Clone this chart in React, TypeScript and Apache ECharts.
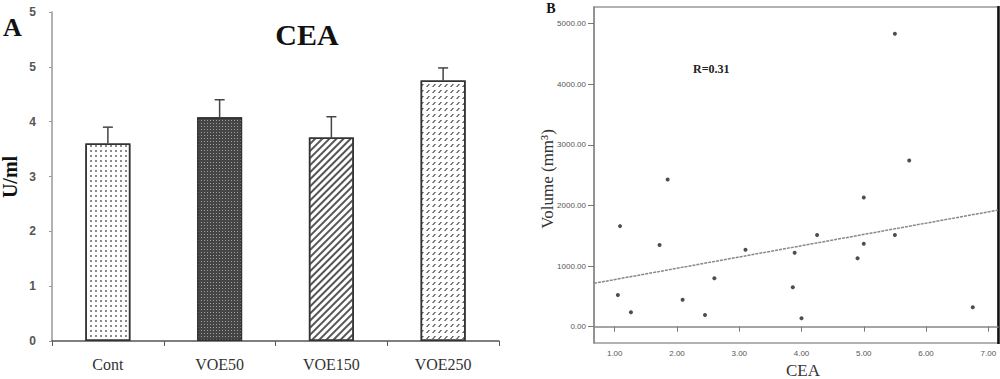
import React, { useEffect, useRef } from "react";
import * as echarts from "echarts";

// Panel A: CEA bar chart
const categories = ["Cont", "VOE50", "VOE150", "VOE250"];
const meanValues = [3.6, 4.08, 3.71, 4.75];
const errorValues = [0.3, 0.32, 0.38, 0.23];
const yTickLabelsA = ["0", "1", "2", "3", "4", "5", "5"];

// Panel B: Volume vs CEA scatter
const ceaValues = [5.5, 1.85, 5.73, 1.085, 1.72, 5.0, 4.25, 5.5, 3.1, 3.89, 5.0, 4.9, 2.6, 3.86, 1.05, 2.09, 1.26, 2.45, 4.0, 6.75];
const volumeValues = [4834, 2428, 2741, 1659, 1346, 2132, 1511, 1511, 1269, 1219, 1368, 1127, 797, 649, 522, 445, 237, 193, 138, 320];
const fitLineX = [0.667, 7.156];
const fitLineY = [715, 1923];
const xTicksB = [1, 2, 3, 4, 5, 6, 7];
const yTicksB = [0, 1000, 2000, 3000, 4000, 5000];

const SERIF = "'Liberation Serif', 'DejaVu Serif', serif";
const SANS = "'Liberation Sans', Arial, sans-serif";

const decals: any[] = [
  { symbol: "rect", symbolSize: 1, color: "#8a8a8a", backgroundColor: "#ffffff", dashArrayX: [1.2, 3], dashArrayY: [1.2, 3] },
  { symbol: "rect", symbolSize: 1, color: "#a0a0a0", backgroundColor: "#454545", dashArrayX: [1, 1.6], dashArrayY: [1, 1.6] },
  { symbol: "rect", symbolSize: 1, color: "#555555", backgroundColor: "#ffffff", dashArrayX: [1, 0], dashArrayY: [1.5, 2.2], rotation: -Math.PI / 4 },
  { symbol: "path://M0,10 L3.5,10 L10,0 L6.5,0 Z", symbolSize: 1, symbolKeepAspect: false, color: "#444444", backgroundColor: "#ffffff", dashArrayX: [4, 1.5], dashArrayY: [3, 2.8] },
];

export default function App() {
  const ref = useRef<HTMLDivElement>(null);
  useEffect(() => {
    if (!ref.current) return;
    const chart = echarts.init(ref.current, undefined, { renderer: "svg" });
    const option: any = {
      animation: false,
      backgroundColor: "#ffffff",
      grid: [
        { left: 52, top: 12, width: 447, height: 329, outerBoundsMode: "none" },
        { left: 594, top: 7, width: 404, height: 336, outerBoundsMode: "none", show: true, borderColor: "#999", borderWidth: 1.5, backgroundColor: "transparent" },
      ],
      xAxis: [
        {
          type: "category",
          gridIndex: 0,
          data: categories,
          axisLine: { lineStyle: { color: "#555", width: 1.5 } },
          axisTick: { show: true, length: 5, lineStyle: { color: "#555" } },
          axisLabel: { fontFamily: SERIF, fontSize: 16, color: "#333", margin: 15 },
        },
        {
          type: "value",
          gridIndex: 1,
          min: 0.667,
          max: 7.156,
          splitLine: { show: false },
          axisLine: { lineStyle: { color: "#888", width: 1.5 } },
          axisTick: { show: true, length: 5, customValues: xTicksB, lineStyle: { color: "#777" } },
          axisLabel: { customValues: xTicksB, fontFamily: SANS, fontSize: 8, color: "#555", margin: 6, formatter: (v: number) => v.toFixed(2) },
        },
      ],
      yAxis: [
        {
          type: "value",
          gridIndex: 0,
          min: 0,
          max: 6,
          interval: 1,
          splitLine: { show: false },
          axisLine: { show: true, lineStyle: { color: "#999", width: 1.5 } },
          axisTick: { show: true, length: 3, lineStyle: { color: "#999" } },
          axisLabel: { fontFamily: SANS, fontSize: 12, fontWeight: "bold", color: "#555", margin: 16, formatter: (v: number) => yTickLabelsA[Math.round(v)] },
        },
        {
          type: "value",
          gridIndex: 1,
          min: -270,
          max: 5275,
          splitLine: { show: false },
          axisLine: { show: true, lineStyle: { color: "#888", width: 1.5 } },
          axisTick: { show: true, length: 6, customValues: yTicksB, lineStyle: { color: "#777" } },
          axisLabel: { customValues: yTicksB, fontFamily: SANS, fontSize: 8, color: "#555", margin: 8, formatter: (v: number) => v.toFixed(2) },
        },
      ],
      series: [
        {
          type: "bar",
          xAxisIndex: 0,
          yAxisIndex: 0,
          barWidth: 45,
          data: meanValues.map((v, i) => ({
            value: v,
            itemStyle: { color: decals[i].backgroundColor, decal: decals[i], borderColor: "#333", borderWidth: 1.5 },
          })),
          z: 2,
        },
        {
          type: "custom",
          xAxisIndex: 0,
          yAxisIndex: 0,
          z: 3,
          data: meanValues.map((m, i) => [i, m, m + errorValues[i]]),
          encode: { x: 0, y: [1, 2] },
          renderItem: (params: any, api: any) => {
            const x = api.value(0);
            const base = api.coord([x, api.value(1)]);
            const top = api.coord([x, api.value(2)]);
            const st = { stroke: "#444", lineWidth: 1.5 };
            return {
              type: "group",
              children: [
                { type: "line", shape: { x1: base[0], y1: base[1], x2: top[0], y2: top[1] }, style: st },
                { type: "line", shape: { x1: top[0] - 5, y1: top[1], x2: top[0] + 5, y2: top[1] }, style: st },
              ],
            };
          },
        },
        {
          type: "line",
          xAxisIndex: 1,
          yAxisIndex: 1,
          data: fitLineX.map((x, i) => [x, fitLineY[i]]),
          symbol: "none",
          lineStyle: { color: "#888", width: 1.5, type: [3, 1] },
          z: 2,
        },
        {
          type: "scatter",
          xAxisIndex: 1,
          yAxisIndex: 1,
          data: ceaValues.map((x, i) => [x, volumeValues[i]]),
          symbol: "circle",
          symbolSize: 4,
          itemStyle: { color: "#222" },
          z: 3,
        },
      ],
      graphic: [
        { type: "text", left: 3, top: 14, style: { text: "A", font: `bold 26px ${SERIF}`, fill: "#111" } },
        { type: "text", x: 307, y: 34, style: { text: "CEA", font: `bold 30px ${SERIF}`, fill: "#111", align: "center", verticalAlign: "middle" } },
        { type: "text", x: 10, y: 177, rotation: Math.PI / 2, style: { text: "U/ml", font: `bold 20px ${SERIF}`, fill: "#111", align: "center", verticalAlign: "middle" } },
        { type: "text", x: 551, y: 8, style: { text: "B", font: `bold 14px ${SERIF}`, fill: "#111", align: "center", verticalAlign: "middle" } },
        { type: "text", x: 693, y: 69, style: { text: "R=0.31", font: `bold 12px ${SERIF}`, fill: "#222", align: "left", verticalAlign: "middle" } },
        { type: "text", x: 547, y: 179, rotation: Math.PI / 2, style: { text: "Volume (mm³)", font: `17px ${SERIF}`, fill: "#333", align: "center", verticalAlign: "middle" } },
        { type: "text", x: 803, y: 370, style: { text: "CEA", font: `17px ${SERIF}`, fill: "#333", align: "center", verticalAlign: "middle" } },
        { type: "line", shape: { x1: 998.5, y1: 6, x2: 998.5, y2: 344 }, style: { stroke: "#111", lineWidth: 2.5 } },
      ],
    };
    chart.setOption(option);
    return () => chart.dispose();
  }, []);
  return <div ref={ref} style={{ position: "fixed", left: 0, top: 0, width: 1000, height: 379 }} />;
}
